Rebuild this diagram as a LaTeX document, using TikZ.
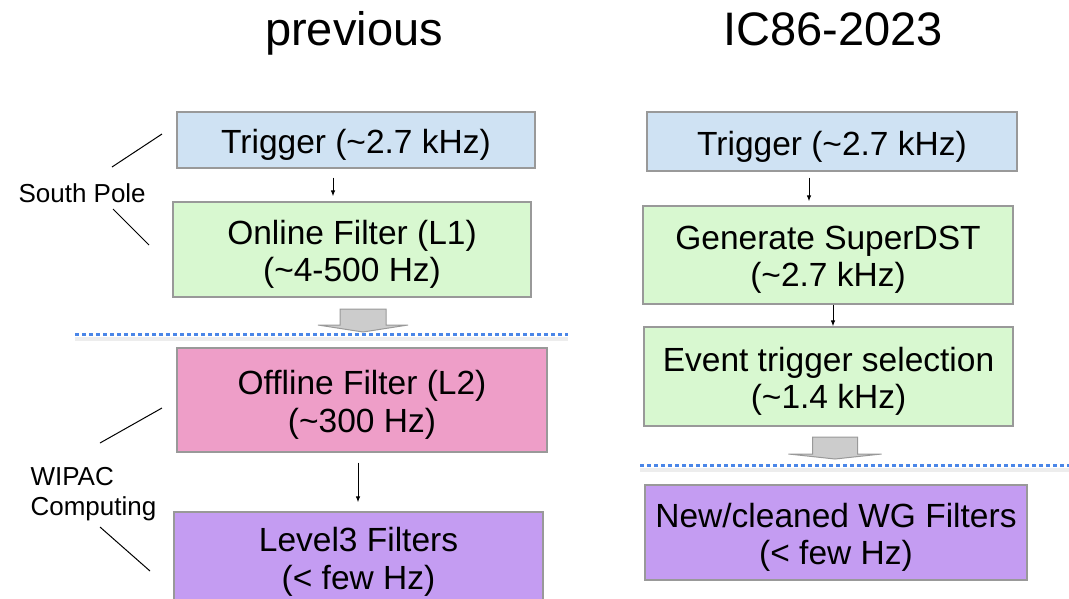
\documentclass[tikz,border=0pt]{standalone}
\usepackage{fontspec}
\setmainfont{Liberation Sans}
\usetikzlibrary{arrows.meta}
\definecolor{tblue}{HTML}{CFE2F3}
\definecolor{tgreen}{HTML}{D8F8D0}
\definecolor{tpink}{HTML}{EE9EC8}
\definecolor{tpurple}{HTML}{C49CF2}
\definecolor{tborder}{HTML}{999999}
\definecolor{tdot}{HTML}{4A86E8}
\definecolor{tfat}{HTML}{CCCCCC}
\tikzset{
  box/.style={draw=tborder, line width=1.2pt, inner sep=0pt},
  boxtext/.style={inner sep=0pt, align=center, yshift=-5pt,
    font=\fontsize{33.5}{37.5}\selectfont},
  title/.style={font=\fontsize{47}{50}\selectfont, anchor=base},
  side/.style={font=\fontsize{26}{30}\selectfont, align=left, anchor=west},
  thin/.style={line width=1pt},
  arr/.style={line width=1pt, -{Latex[length=6pt,width=4.5pt]}},
  fat/.style={draw=tborder, fill=tfat, line width=1pt, line join=miter},
  sep/.style={draw=tdot, line width=3pt, dash pattern=on 4pt off 3pt},
  sepshadow/.style={draw=black!7, line width=4pt}
}
\begin{document}
\begin{tikzpicture}[x=1pt,y=-1pt]
\useasboundingbox (0,0) rectangle (1069,598);
\clip (0,0) rectangle (1069,598);
% titles
\node[title] (tprev) at (354,45) {previous};
\node[title] (tnew) at (833,45) {IC86-2023};
% separators
\draw[sepshadow] (75,339) -- (568,339);
\draw[sep] (75,334) -- (568,334);
\draw[sepshadow] (640,470) -- (1069,470);
\draw[sep] (640,465) -- (1069,465);
% left column
\node[box, fill=tblue, minimum width=358pt, minimum height=56pt] (t1) at (356,140) {};
\node[boxtext] (t1x) at (t1.center) {Trigger (\textasciitilde2.7 kHz)};
\node[box, fill=tgreen, minimum width=358pt, minimum height=95pt] (l1) at (352,249.5) {};
\node[boxtext] (l1x) at (l1.center) {Online Filter (L1)\\(\textasciitilde4-500 Hz)};
\node[box, fill=tpink, minimum width=370pt, minimum height=104pt] (l2) at (362,400) {};
\node[boxtext] (l2x) at (l2.center) {Offline Filter (L2)\\(\textasciitilde300 Hz)};
\node[box, fill=tpurple, minimum width=369pt, minimum height=100pt] (l3) at (358.5,562) {};
\node[boxtext, yshift=5pt] (l3x) at (l3.center) {Level3 Filters\\(\textless{} few Hz)};
\draw[arr] ([xshift=-23pt,yshift=-9pt]t1.south) -- ([xshift=-23pt,yshift=5pt]t1.south |- l1.north);
\draw[arr] ([xshift=-4pt,yshift=-10pt]l2.south) -- ([xshift=-4pt,yshift=9pt]l2.south |- l3.north);
\draw[fat] (363,332) -- ++(-45,-7) -- ++(22,0) -- ++(0,-16) -- ++(46,0) -- ++(0,16) -- ++(22,0) -- cycle;
% side labels
\node[side] (sp) at (15,193) {South Pole};
\draw[thin] (112,167) -- (162,134);
\draw[thin] (113,209) -- (149,245);
\node[side] (wc) at (27,494) {WIPAC\\Computing};
\draw[thin] (100,443) -- (162,408);
\draw[thin] (100,527) -- (150,571);
% right column
\node[box, fill=tblue, minimum width=370pt, minimum height=59pt] (rt) at (832,141.5) {};
\node[boxtext] (rtx) at (rt.center) {Trigger (\textasciitilde2.7 kHz)};
\node[box, fill=tgreen, minimum width=370pt, minimum height=98pt] (rg) at (828,255) {};
\node[boxtext] (rgx) at (rg.center) {Generate SuperDST\\(\textasciitilde2.7 kHz)};
\node[box, fill=tgreen, minimum width=369pt, minimum height=99pt] (re) at (828.5,376.5) {};
\node[boxtext] (rex) at (re.center) {Event trigger selection\\(\textasciitilde1.4 kHz)};
\node[box, fill=tpurple, minimum width=382pt, minimum height=95pt] (rn) at (836,532.5) {};
\node[boxtext] (rnx) at (rn.center) {New/cleaned WG Filters\\(\textless{} few Hz)};
\draw[arr] ([xshift=-23pt,yshift=-6pt]rt.south) -- ([xshift=-23pt,yshift=4pt]rt.south |- rg.north);
\draw[arr] ([xshift=5pt]rg.south) -- ([xshift=5pt]rg.south |- re.north);
\draw[fat] (835,459) -- ++(-46.5,-5) -- ++(24,0) -- ++(0,-17) -- ++(45,0) -- ++(0,17) -- ++(24,0) -- cycle;
\end{tikzpicture}
\end{document}
